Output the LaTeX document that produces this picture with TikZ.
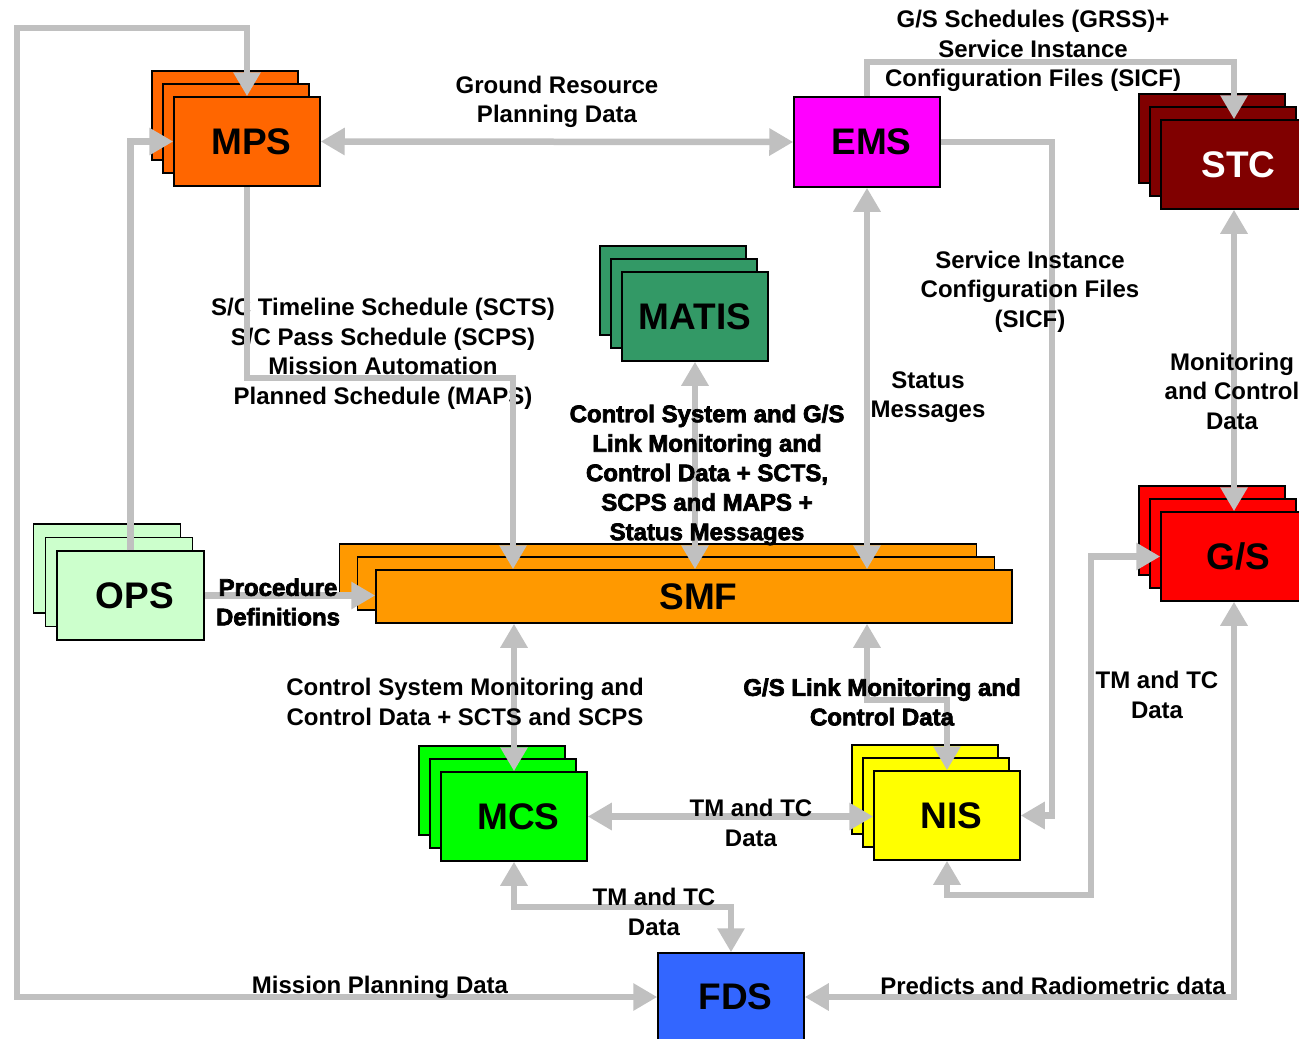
\documentclass[tikz,border=0pt]{standalone}
\usepackage{fontspec}
\setmainfont{Liberation Sans}
\newfontfamily\heavyfont{Liberation Sans Bold}[FakeBold=3]
\usetikzlibrary{arrows.meta}
\definecolor{mpsc}{HTML}{FF6600}
\definecolor{emsc}{HTML}{FF00FF}
\definecolor{stcc}{HTML}{800000}
\definecolor{matisc}{HTML}{339966}
\definecolor{opsc}{HTML}{CCFFCC}
\definecolor{smfc}{HTML}{FF9900}
\definecolor{gsc}{HTML}{FF0000}
\definecolor{mcsc}{HTML}{00FF00}
\definecolor{nisc}{HTML}{FFFF00}
\definecolor{fdsc}{HTML}{3366FF}
\definecolor{lgray}{HTML}{C0C0C0}
\begin{document}
\begin{tikzpicture}[x=1pt,y=-1pt,
  >={Triangle[length=24pt,width=26pt]},
  box/.style={draw=black,line width=1.5pt,inner sep=0pt,minimum width=146pt,minimum height=89pt,
    font=\fontsize{37}{44}\selectfont\bfseries},
  front/.style={execute at begin node={\hspace*{9pt}}},
  conn/.style={draw=lgray,line width=6.5pt},
  lbl/.style={align=center,inner sep=0pt,yshift=-2.5pt,font=\fontsize{24}{29.5}\selectfont\bfseries},
  hlbl/.style={align=center,inner sep=0pt,yshift=-2.5pt,font=\fontsize{24}{29.5}\selectfont\heavyfont}]
\useasboundingbox (0,0) rectangle (1299,1039);

% ---- boxes ----
\node[box,fill=mpsc] (mps3) at (225,115.5) {};
\node[box,fill=mpsc] (mps2) at (236,128.5) {};
\node[box,front,fill=mpsc] (mps) at (247,141.5) {MPS};

\node[box,front,fill=emsc,minimum height=90pt] (ems) at (867,142) {EMS};

\node[box,fill=stcc] (stc3) at (1212,138.5) {};
\node[box,fill=stcc] (stc2) at (1223,151.5) {};
\node[box,front,fill=stcc,text=white] (stc) at (1234,164.5) {STC};

\node[box,fill=matisc] (matis3) at (673,290.5) {};
\node[box,fill=matisc] (matis2) at (684,303.5) {};
\node[box,fill=matisc] (matis) at (695,316.5) {MATIS};

\node[box,fill=opsc,minimum width=147pt] (ops3) at (107,568.5) {};
\node[box,fill=opsc,minimum width=147pt] (ops2) at (119,582) {};
\node[box,front,fill=opsc,minimum width=147pt] (ops) at (130.5,595.5) {OPS};

\node[box,fill=smfc,minimum width=637pt,minimum height=53pt] (smf3) at (658,570.5) {};
\node[box,fill=smfc,minimum width=637pt,minimum height=53pt] (smf2) at (676,583.5) {};
\node[box,front,fill=smfc,minimum width=636pt,minimum height=53pt] (smf) at (694,596.5) {SMF};

\node[box,fill=gsc] (gs3) at (1212,530.5) {};
\node[box,fill=gsc] (gs2) at (1223,543.5) {};
\node[box,front,fill=gsc] (gs) at (1234,556.5) {G/S};

\node[box,fill=mcsc] (mcs3) at (492,790.5) {};
\node[box,fill=mcsc] (mcs2) at (503,803.5) {};
\node[box,front,fill=mcsc] (mcs) at (514,816.5) {MCS};

\node[box,fill=nisc] (nis3) at (925,789.5) {};
\node[box,fill=nisc] (nis2) at (936,802.5) {};
\node[box,front,fill=nisc] (nis) at (947,815.5) {NIS};

\node[box,front,fill=fdsc,minimum height=88pt] (fds) at (731,997) {FDS};

% ---- connectors ----
\draw[conn,<->] (mps.north) -- (mps.north |- 0,28) -- (17,28) -- (17,997) -- (fds.west);
\draw[conn,<->] (mps.east) -- (ems.west);
\draw[conn,->] (ops.north) -- (ops.north |- mps.west) -- (mps.west);
\draw[conn,<->] (matis.south) -- (matis.south |- smf.north);
\draw[conn,<->] (ems.south) -- (ems.south |- smf.north);
\draw[conn,->] (ems.north) -- (ems.north |- 0,62) -- (stc.north |- 0,62) -- (stc.north);
\draw[conn,->] (ems.east) -- (ems.east -| 1052,0) -- (nis.east -| 1052,0) -- (nis.east);
\draw[conn,<->] (stc.south) -- (gs.north);
\draw[conn,<->] (nis.south) -- (nis.south |- 0,895) -- (1091,895) -- (gs.west -| 1091,0) -- (gs.west);
\draw[conn,<->] (gs.south) -- (gs.south |- fds.east) -- (fds.east);
\draw[conn,<->] (mcs.north |- smf.south) -- (mcs.north);
\draw[conn,<->] (ems.south |- smf.south) -- (ems.south |- 0,700) -- (nis.north |- 0,700) -- (nis.north);
\draw[conn,<->] (mcs.east) -- (mcs.east -| nis.west);
\draw[conn,<->] (mcs.south) -- (mcs.south |- 0,907) -- (fds.north |- 0,907) -- (fds.north);
\draw[conn,->] (ops.east) -- (ops.east -| smf.west);

% ---- labels ----
\node[lbl] (lgrp) at (557,99.5) {Ground Resource\\Planning Data};
\node[lbl] (lscts) at (383,351.5) {S/C Timeline Schedule (SCTS)\\S/C Pass Schedule (SCPS)\\Mission Automation\\Planned Schedule (MAPS)};
\node[hlbl] (lcsgs) at (707,472.5) {Control System and G/S\\Link Monitoring and\\Control Data + SCTS,\\SCPS and MAPS +\\Status Messages};
\node[lbl] (lstat) at (928,394.5) {Status\\Messages};
\node[lbl] (lgrss) at (1033,48.5) {G/S Schedules (GRSS)+\\Service Instance\\Configuration Files (SICF)};
\node[lbl] (lsicf) at (1030,289) {Service Instance\\Configuration Files\\(SICF)};
\node[lbl] (lmon) at (1232,388.5) {Monitoring\\and Control\\Data};
\node[hlbl] (lproc) at (278,599.5) {Procedure\\Definitions};
\node[lbl] (lcsm) at (465,699.5) {Control System Monitoring and\\Control Data + SCTS and SCPS};
\node[hlbl] (lgsl) at (882,699.5) {G/S Link Monitoring and\\Control Data};
\node[lbl] (ltm1) at (751,820.5) {TM and TC\\Data};
\node[lbl] (ltm2) at (654,909.5) {TM and TC\\Data};
\node[lbl] (ltm3) at (1157,692.5) {TM and TC\\Data};
\node[lbl] (lpred) at (1053,983) {Predicts and Radiometric data};
\node[lbl] (lmpd) at (380,985) {Mission Planning Data};

% line drawn over its label
\draw[conn,->] (mps.south) -- (mps.south |- 0,378) -- (513,378) -- (smf.north -| 513,0);
\end{tikzpicture}
\end{document}
